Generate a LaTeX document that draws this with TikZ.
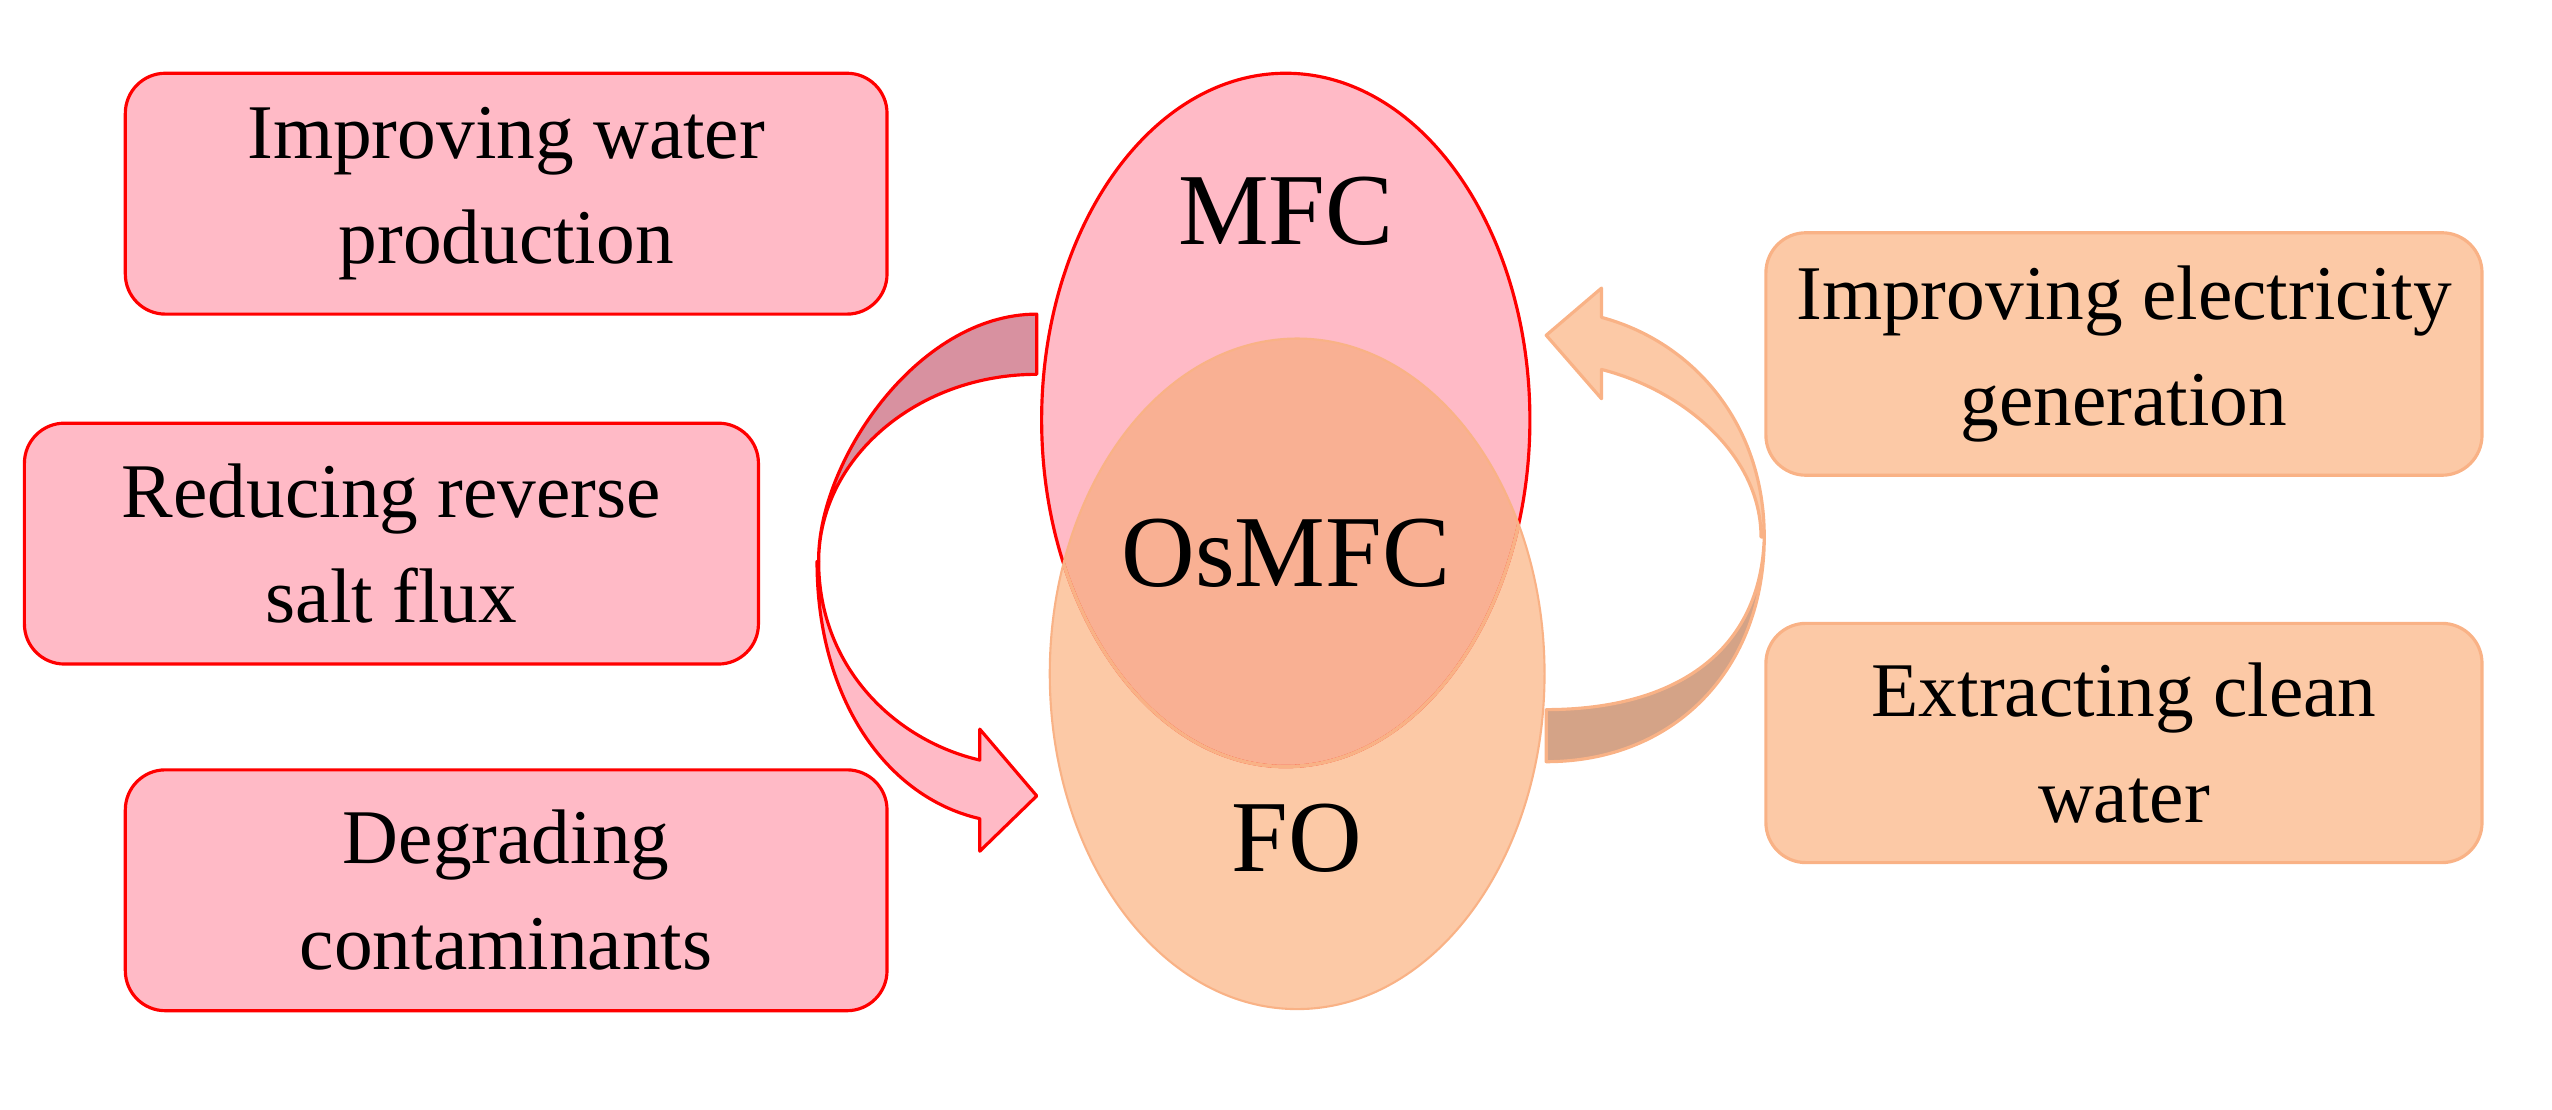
\documentclass[tikz,border=0pt]{standalone}
\usepackage{fontspec}
\setmainfont{Liberation Serif}
\definecolor{pinkF}{RGB}{255,186,198}
\definecolor{peachF}{RGB}{252,201,166}
\definecolor{peachD}{RGB}{249,178,134}
\definecolor{lensF}{RGB}{249,176,147}
\definecolor{darkL}{RGB}{216,145,160}
\definecolor{darkR}{RGB}{212,163,135}
\definecolor{redD}{RGB}{255,0,0}
\begin{document}
\begin{tikzpicture}[x=0.01627cm,y=-0.01627cm,
  pbox/.style={draw=redD,line width=0.9pt,fill=pinkF,rounded corners=0.4cm,align=center,font=\fontsize{22}{30}\selectfont,inner sep=0pt},
  obox/.style={draw=peachD,line width=0.9pt,fill=peachF,rounded corners=0.4cm,align=center,font=\fontsize{22}{30}\selectfont,inner sep=0pt},
  big/.style={font=\fontsize{29}{34}\selectfont}]
\useasboundingbox (0,0) rectangle (1568,682);
% boxes
\node[pbox,minimum width=468*0.01627cm,minimum height=148*0.01627cm] (b1) at (311,119) {Improving water\\production};
\node[pbox,minimum width=451*0.01627cm,minimum height=148*0.01627cm] (b2) at (240.5,334) {Reducing reverse\\salt flux};
\node[pbox,minimum width=468*0.01627cm,minimum height=148*0.01627cm] (b3) at (311,547) {Degrading\\contaminants};
\node[obox,minimum width=440*0.01627cm,minimum height=149*0.01627cm] (b4) at (1305,217.5) {Improving electricity\\generation};
\node[obox,minimum width=440*0.01627cm,minimum height=147*0.01627cm] (b5) at (1305,456.5) {Extracting clean\\water};
% ellipses
\fill[pinkF] (790,258) ellipse [x radius=150,y radius=213];
\fill[peachF] (797,414) ellipse [x radius=152,y radius=206];
\begin{scope}
\clip (790,258) ellipse [x radius=150,y radius=213];
\fill[lensF] (797,414) ellipse [x radius=152,y radius=206];
\end{scope}
\draw[redD,line width=0.9pt] (790,258) ellipse [x radius=150,y radius=213];
\begin{scope}
\clip (797,414) ellipse [x radius=152,y radius=206];
\draw[peachD,line width=1pt] (790,258) ellipse [x radius=150,y radius=213];
\end{scope}
\draw[peachD,line width=0.6pt] (797,414) ellipse [x radius=152,y radius=206];
\node[big] (mfc) at (790,130) {MFC};
\node[big] (os) at (790,340) {OsMFC};
\node[big] (fo) at (797,515) {FO};
% left curved arrow
\filldraw[fill=darkL,draw=redD,line width=0.9pt,line join=round]
  (637,193) -- (637,230) .. controls (563,230) and (503,282) .. (503,345)
  .. controls (502,285) and (563,193) .. (637,193) -- cycle;
\filldraw[fill=pinkF,draw=redD,line width=0.9pt,line join=round]
  (503,345) .. controls (503,410) and (550,455) .. (602,467) -- (602,448) -- (637,489)
  -- (602,523) -- (602,503) .. controls (545,490) and (502,430) .. (502,345) -- cycle;
% right curved arrow
\filldraw[fill=darkR,draw=peachD,line width=0.9pt,line join=round]
  (950,436) -- (950,468) .. controls (1030,468) and (1084,410) .. (1084,330)
  .. controls (1082,400) and (1030,436) .. (950,436) -- cycle;
\filldraw[fill=peachF,draw=peachD,line width=0.9pt,line join=round]
  (1084,330) .. controls (1084,260) and (1040,210) .. (984,195) -- (984,177) -- (950,206)
  -- (984,245) -- (984,227) .. controls (1035,240) and (1082,280) .. (1082,330) -- cycle;
\end{tikzpicture}
\end{document}
